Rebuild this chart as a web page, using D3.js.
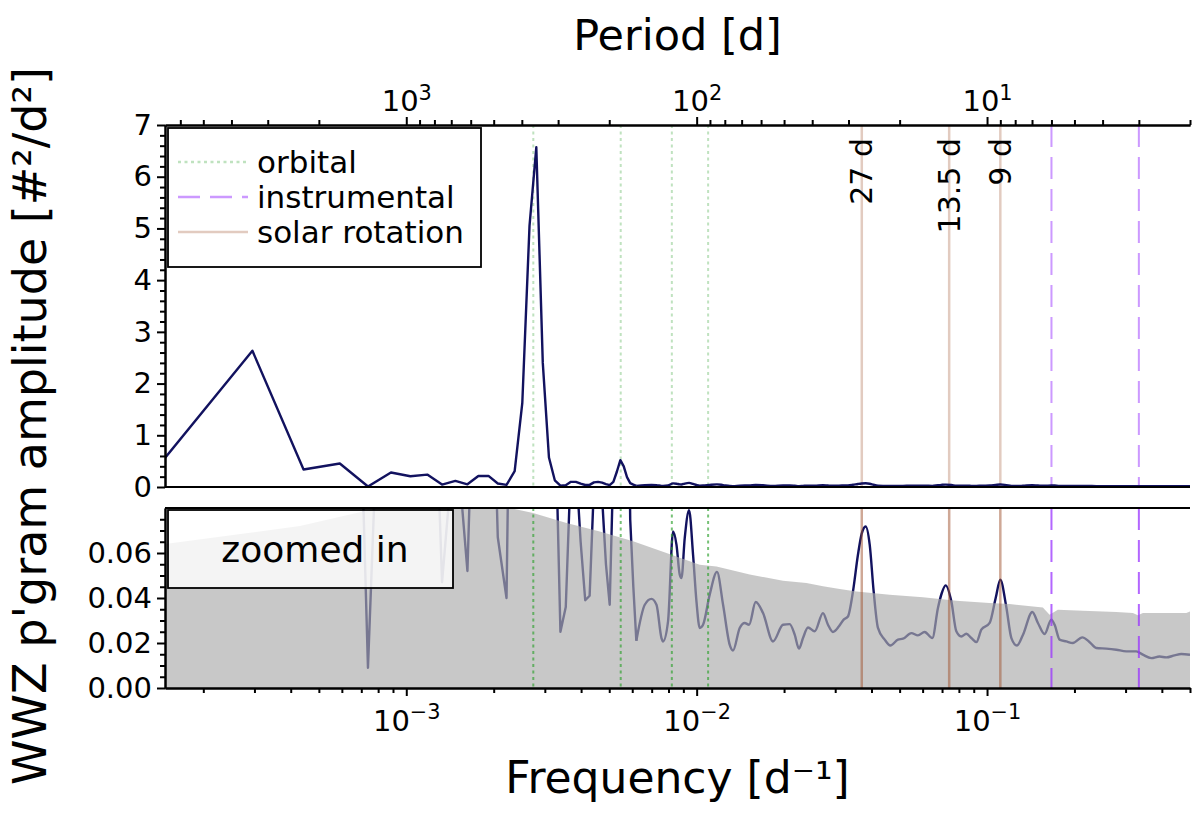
<!DOCTYPE html>
<html>
<head>
<meta charset="utf-8">
<script src="https://cdn.jsdelivr.net/npm/d3@7"></script>
<style>
  body { margin: 0; background: #fff; }
  text { font-family: "DejaVu Sans", sans-serif; fill: #000; }
</style>
</head>
<body>
<div id="chart"></div>
<script>
// WWZ periodogram amplitude vs frequency (d^-1)
const freq = [
  1.476e-4, 2.952e-4, 4.428e-4, 5.904e-4, 7.38e-4, 8.856e-4, 1.033e-3, 1.181e-3,
  1.328e-3, 1.476e-3, 1.624e-3, 1.771e-3, 1.919e-3, 2.066e-3, 2.214e-3, 2.362e-3,
  2.509e-3, 2.657e-3, 2.804e-3, 2.952e-3, 3.100e-3, 3.247e-3, 3.395e-3, 3.542e-3,
  3.690e-3, 3.838e-3, 3.985e-3, 4.133e-3, 4.280e-3, 4.428e-3, 4.576e-3, 4.723e-3,
  4.871e-3, 5.018e-3, 5.166e-3, 5.314e-3, 5.461e-3, 5.609e-3, 5.756e-3, 5.904e-3,
  6.052e-3, 6.199e-3,
  6.627e-3, 6.989e-3, 7.272e-3, 7.565e-3, 7.66e-3, 7.97e-3, 8.294e-3, 8.52e-3,
  8.745e-3, 8.866e-3, 9.099e-3, 9.415e-3, 9.72e-3, 9.984e-3, 1.025e-2, 1.052e-2,
  1.109e-2, 1.175e-2, 1.233e-2, 1.300e-2, 1.334e-2, 1.407e-2, 1.464e-2, 1.515e-2,
  1.597e-2, 1.693e-2, 1.832e-2, 1.983e-2, 2.091e-2, 2.176e-2, 2.251e-2, 2.324e-2,
  2.418e-2, 2.550e-2, 2.723e-2, 2.833e-2, 2.947e-2, 3.091e-2, 3.208e-2, 3.319e-2,
  3.454e-2, 3.593e-2, 3.700e-2, 3.820e-2, 3.944e-2, 4.070e-2, 4.211e-2, 4.441e-2,
  4.646e-2, 4.935e-2, 5.135e-2, 5.488e-2, 5.782e-2, 6.097e-2, 6.480e-2, 6.776e-2,
  6.977e-2, 7.202e-2, 7.535e-2, 7.839e-2, 8.155e-2, 8.484e-2, 8.830e-2, 9.190e-2,
  9.559e-2, 0.1021, 0.1071, 0.1111, 0.1165, 0.1213, 0.1268, 0.1330,
  0.1432, 0.1497, 0.1578, 0.1665, 0.1709, 0.1778, 0.1875, 0.1975,
  0.2128, 0.2243, 0.2378, 0.2574, 0.2787, 0.3017, 0.3266, 0.3441,
  0.3678, 0.3927, 0.4143, 0.4423, 0.4665, 0.5
];
const amp = [
  0.563, 2.635, 0.338, 0.454, 0.009, 0.28, 0.208, 0.24,
  0.047, 0.117, 0.052, 0.214, 0.214, 0.067, 0.040, 0.305,
  1.62, 5.05, 6.57, 2.40, 0.57, 0.13, 0.025, 0.036,
  0.10, 0.10, 0.065, 0.039, 0.041, 0.09, 0.10, 0.085,
  0.055, 0.037, 0.10, 0.30, 0.52, 0.40, 0.19, 0.075,
  0.045, 0.021,
  0.037, 0.0396, 0.037, 0.0222, 0.0207, 0.0296, 0.0696, 0.0637,
  0.0504, 0.0489, 0.0667, 0.079, 0.0592, 0.0385, 0.0267, 0.0281,
  0.0415, 0.0516, 0.037, 0.0192, 0.0167, 0.0267, 0.0289, 0.0281,
  0.0382, 0.0333, 0.0207, 0.0281, 0.0284, 0.0237, 0.0175, 0.0222,
  0.0269, 0.0252, 0.0333, 0.0281, 0.0249, 0.0274, 0.0304, 0.0318,
  0.0429, 0.0592, 0.0685, 0.0718, 0.0637, 0.0429, 0.0267, 0.0215,
  0.0189, 0.0215, 0.0219, 0.0244, 0.0234, 0.0249, 0.0222, 0.0356,
  0.042, 0.0456, 0.0385, 0.0252, 0.0229, 0.0241, 0.0222, 0.0204,
  0.0259, 0.0289, 0.040, 0.0481, 0.036, 0.0222, 0.0189, 0.0237,
  0.0338, 0.0289, 0.024, 0.0304, 0.0281, 0.0215, 0.0207, 0.020,
  0.0225, 0.0207, 0.0178, 0.0175, 0.017, 0.0163, 0.0163, 0.0148,
  0.0133, 0.014, 0.0136, 0.0145, 0.0151, 0.0148
];
// index where the densely sampled (smooth) part starts
const smoothFrom = 41;

// grey band in the zoomed panel
const bandFreq = [
  1.476e-4, 2.894e-4, 4.30e-4, 7.09e-4, 9.50e-4, 1.413e-3, 1.79e-3, 2.273e-3,
  2.734e-3, 3.563e-3, 4.638e-3, 6.04e-3, 7.87e-3, 1.024e-2, 1.17e-2, 1.523e-2,
  1.983e-2, 2.388e-2, 2.723e-2, 3.109e-2, 3.548e-2, 4.62e-2, 6.016e-2, 7.836e-2,
  0.1019, 0.1196, 0.1557, 0.1642, 0.1754, 0.2138, 0.2787, 0.3178,
  0.3307, 0.3441, 0.4855, 0.5
];
const bandAmp = [
  0.064, 0.069, 0.072, 0.0785, 0.082, 0.085, 0.084, 0.080,
  0.0778, 0.0733, 0.0696, 0.0652, 0.060, 0.0548, 0.054, 0.0504,
  0.0477, 0.0467, 0.0452, 0.044, 0.0429, 0.0415, 0.0403, 0.0388,
  0.0378, 0.0373, 0.0358, 0.0326, 0.0348, 0.0343, 0.0338, 0.0333,
  0.0323, 0.0333, 0.0333, 0.034
];

// marker lines
const orbitalFreq = [0.002738, 0.005476, 0.008214, 0.010951];
const instrumentalFreq = [0.16667, 0.33333];
const solarFreq = [0.037037, 0.074074, 0.11111];
const solarLabels = ["27 d", "13.5 d", "9 d"];

const legendLabels = ["orbital", "instrumental", "solar rotation"];

const W = 1200, H = 815;
const L = 165, R = 1190;
const topY0 = 125, topY1 = 487, botY0 = 508, botY1 = 688;

const lineColor = "#12125f";
const orbitalColor = "#2ca02c", instrColor = "#9933ff", solarColor = "sienna";
const instrDash = "22,10", orbDash = "3,3.5";

const svg = d3.select("#chart").append("svg")
  .attr("width", W).attr("height", H);

const x = d3.scaleLog().domain([freq[0], freq[freq.length - 1]]).range([L, R]);
const yTop = d3.scaleLinear().domain([0, 7]).range([topY1, topY0]);
const yBot = d3.scaleLinear().domain([0, 0.08]).range([botY1, botY0]);

const defs = svg.append("defs");
defs.append("clipPath").attr("id", "clipTop").append("rect")
  .attr("x", L).attr("y", topY0).attr("width", R - L).attr("height", topY1 - topY0);
defs.append("clipPath").attr("id", "clipBot").append("rect")
  .attr("x", L).attr("y", botY0).attr("width", R - L).attr("height", botY1 - botY0);

const pts = freq.map((f, i) => ({ f: f, v: amp[i] }));
const bandPts = bandFreq.map((f, i) => ({ f: f, v: bandAmp[i] }));

function drawSeries(g, y) {
  const sharp = d3.line().x(d => x(d.f)).y(d => y(d.v));
  const smooth = d3.line().x(d => x(d.f)).y(d => y(d.v)).curve(d3.curveMonotoneX);
  g.append("path").datum(pts.slice(0, smoothFrom + 1)).attr("d", sharp)
    .attr("fill", "none").attr("stroke", lineColor).attr("stroke-width", 2.4)
    .attr("stroke-linejoin", "round");
  g.append("path").datum(pts.slice(smoothFrom)).attr("d", smooth)
    .attr("fill", "none").attr("stroke", lineColor).attr("stroke-width", 2.4)
    .attr("stroke-linejoin", "round");
}

function drawMarkers(g, y0, y1, alphas) {
  g.selectAll(".orb").data(orbitalFreq).join("line")
    .attr("x1", d => x(d)).attr("x2", d => x(d)).attr("y1", y0).attr("y2", y1)
    .attr("stroke", orbitalColor).attr("stroke-opacity", alphas[0])
    .attr("stroke-width", 2).attr("stroke-dasharray", orbDash);
  g.selectAll(".ins").data(instrumentalFreq).join("line")
    .attr("x1", d => x(d)).attr("x2", d => x(d)).attr("y1", y0).attr("y2", y1)
    .attr("stroke", instrColor).attr("stroke-opacity", alphas[1])
    .attr("stroke-width", 2).attr("stroke-dasharray", instrDash);
  g.selectAll(".sol").data(solarFreq).join("line")
    .attr("x1", d => x(d)).attr("x2", d => x(d)).attr("y1", y0).attr("y2", y1)
    .attr("stroke", solarColor).attr("stroke-opacity", alphas[2])
    .attr("stroke-width", 2.5);
}

// ---------- top panel ----------
const gTop = svg.append("g").attr("clip-path", "url(#clipTop)");
drawMarkers(gTop.append("g"), topY0, topY1, [0.3, 0.5, 0.3]);

svg.append("g").selectAll("text").data(solarFreq).join("text")
  .attr("transform", d => `translate(${x(d) + 10.5},138) rotate(-90)`)
  .attr("text-anchor", "end")
  .attr("font-size", 30)
  .text((d, i) => solarLabels[i]);

drawSeries(gTop.append("g"), yTop);

// legend
const leg = svg.append("g");
leg.append("rect").attr("x", 168).attr("y", 128).attr("width", 313).attr("height", 139)
  .attr("fill", "#fff").attr("stroke", "#000").attr("stroke-width", 1.8);
const legStyles = [
  { c: orbitalColor, a: 0.3, dash: orbDash },
  { c: instrColor, a: 0.5, dash: instrDash },
  { c: solarColor, a: 0.3, dash: null }
];
legendLabels.forEach((lab, i) => {
  const yy = 162 + i * 35;
  leg.append("line").attr("x1", 178).attr("x2", 248).attr("y1", yy).attr("y2", yy)
    .attr("stroke", legStyles[i].c).attr("stroke-opacity", legStyles[i].a)
    .attr("stroke-width", 2.5).attr("stroke-dasharray", legStyles[i].dash);
  leg.append("text").attr("x", 257).attr("y", yy).attr("dy", "0.35em")
    .attr("font-size", 31).text(lab);
});

// ---------- bottom panel ----------
const gBot = svg.append("g").attr("clip-path", "url(#clipBot)");
drawSeries(gBot.append("g"), yBot);
gBot.append("path").datum(bandPts)
  .attr("d", d3.area().x(d => x(d.f)).y0(yBot(0)).y1(d => yBot(d.v)))
  .attr("fill", "#ababab").attr("fill-opacity", 0.66);
drawMarkers(gBot.append("g"), botY0, botY1, [0.65, 0.75, 0.5]);

svg.append("rect").attr("x", 168).attr("y", 510).attr("width", 285).attr("height", 78)
  .attr("fill", "#fff").attr("fill-opacity", 0.8)
  .attr("stroke", "#000").attr("stroke-width", 1.8);
svg.append("text").attr("x", 315).attr("y", 549).attr("dy", "0.35em")
  .attr("text-anchor", "middle").attr("font-size", 36).text("zoomed in");

// ---------- axes ----------
const tickFont = 29;
function styleAxis(g) {
  g.selectAll("path.domain").attr("stroke", "#000").attr("stroke-width", 2);
  g.selectAll(".tick line").attr("stroke", "#000").attr("stroke-width", 2);
  g.selectAll(".tick text").attr("font-size", tickFont)
    .attr("font-family", "DejaVu Sans, sans-serif").attr("fill", "#000");
}
function powLabels(g, expFn) {
  g.selectAll(".tick text").each(function(d) {
    const t = d3.select(this);
    const e = expFn(d);
    t.text(null);
    t.append("tspan").text("10");
    t.append("tspan").attr("dy", "-0.55em").attr("font-size", "0.72em")
      .text(e < 0 ? "\u2212" + (-e) : String(e));
  });
}

function logMinors(lo, hi) {
  const out = [];
  for (let e = Math.floor(Math.log10(lo)); e <= Math.ceil(Math.log10(hi)); e++) {
    for (let m = 2; m <= 9; m++) {
      const v = m * Math.pow(10, e);
      if (v >= lo * 0.999 && v <= hi * 1.001) out.push(v);
    }
  }
  return out;
}

const xMajors = [1e-3, 1e-2, 1e-1];
const xMinors = logMinors(x.domain()[0], x.domain()[1]);

// top (period) axis
const periodMajors = [1e3, 1e2, 1e1];
const periodMinors = logMinors(1 / x.domain()[1], 1 / x.domain()[0]);
const axTopMinor = svg.append("g").attr("transform", `translate(0,${topY0})`)
  .call(d3.axisTop(x).tickValues(periodMinors.map(p => 1 / p)).tickSize(5).tickSizeOuter(0).tickFormat(""));
styleAxis(axTopMinor);
const axTop = svg.append("g").attr("transform", `translate(0,${topY0})`)
  .call(d3.axisTop(x).tickValues(periodMajors.map(p => 1 / p)).tickSize(8).tickSizeOuter(0).tickPadding(6));
styleAxis(axTop);
powLabels(axTop, d => Math.round(-Math.log10(d)));

// top panel bottom spine
svg.append("line").attr("x1", L).attr("x2", R).attr("y1", topY1).attr("y2", topY1)
  .attr("stroke", "#000").attr("stroke-width", 2);

// top panel y axis
const yTopMinorTicks = d3.range(1, 35).map(i => i * 0.2).filter(v => Math.abs(v - Math.round(v)) > 0.01);
const yTopMinor = svg.append("g").attr("transform", `translate(${L},0)`)
  .call(d3.axisLeft(yTop).tickValues(yTopMinorTicks).tickSize(5).tickSizeOuter(0).tickFormat(""));
styleAxis(yTopMinor);
const yTopAx = svg.append("g").attr("transform", `translate(${L},0)`)
  .call(d3.axisLeft(yTop).tickValues(d3.range(0, 8)).tickSize(8).tickSizeOuter(0)
    .tickPadding(5).tickFormat(d3.format("d")));
styleAxis(yTopAx);

// bottom panel top spine
svg.append("line").attr("x1", L).attr("x2", R).attr("y1", botY0).attr("y2", botY0)
  .attr("stroke", "#000").attr("stroke-width", 2);

// bottom panel y axis
const yBotMinor = svg.append("g").attr("transform", `translate(${L},0)`)
  .call(d3.axisLeft(yBot).tickValues([0.005, 0.01, 0.015, 0.025, 0.03, 0.035, 0.045, 0.05, 0.055, 0.065, 0.07, 0.075])
    .tickSize(5).tickSizeOuter(0).tickFormat(""));
styleAxis(yBotMinor);
const yBotAx = svg.append("g").attr("transform", `translate(${L},0)`)
  .call(d3.axisLeft(yBot).tickValues([0, 0.02, 0.04, 0.06]).tickSize(8).tickSizeOuter(0)
    .tickPadding(5).tickFormat(d3.format(".2f")));
styleAxis(yBotAx);

// bottom x axis
const xMinorAx = svg.append("g").attr("transform", `translate(0,${botY1})`)
  .call(d3.axisBottom(x).tickValues(xMinors).tickSize(5).tickSizeOuter(0).tickFormat(""));
styleAxis(xMinorAx);
const xAx = svg.append("g").attr("transform", `translate(0,${botY1})`)
  .call(d3.axisBottom(x).tickValues(xMajors).tickSize(8).tickSizeOuter(0).tickPadding(14));
styleAxis(xAx);
powLabels(xAx, d => Math.round(Math.log10(d)));

// ---------- axis titles ----------
svg.append("text").attr("x", (L + R) / 2).attr("y", 50).attr("text-anchor", "middle")
  .attr("font-size", 43).text("Period [d]");
svg.append("text").attr("x", (L + R) / 2).attr("y", 793).attr("text-anchor", "middle")
  .attr("font-size", 44).text("Frequency [d\u207B\u00B9]");
svg.append("text").attr("transform", "translate(46,426) rotate(-90)")
  .attr("text-anchor", "middle").attr("font-size", 46)
  .text("WWZ p'gram amplitude [#\u00B2/d\u00B2]");
</script>
</body>
</html>
